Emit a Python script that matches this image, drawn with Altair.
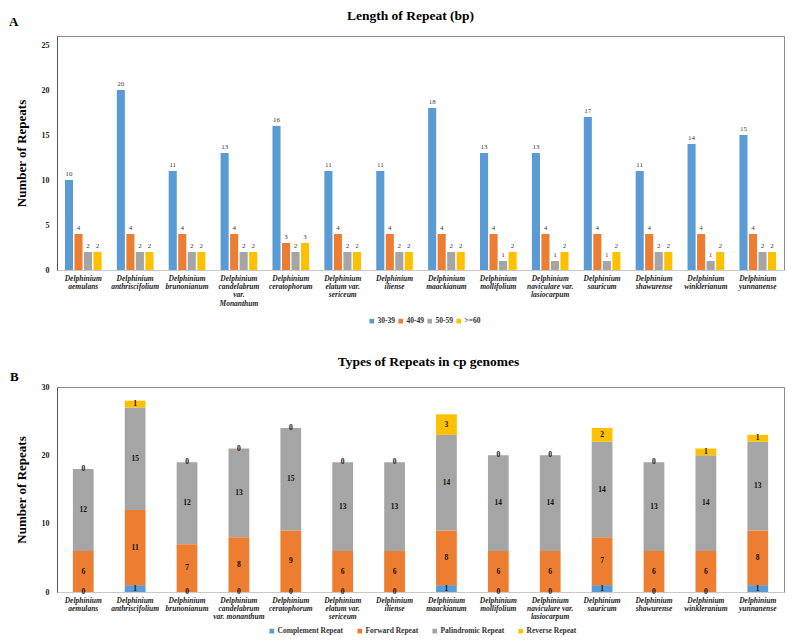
import altair as alt
import pandas as pd

FONT = "Liberation Serif"

# ---------------- data ----------------
labels_a = [
    "Delphinium|aemulans", "Delphinium|anthriscifolium", "Delphinium|brunonianum",
    "Delphinium|candelabrum|var.|Monanthum", "Delphinium|ceratophorum",
    "Delphinium|elatum var.|sericeum", "Delphinium|iliense", "Delphinium|maackianum",
    "Delphinium|mollifolium", "Delphinium|naviculare var.|lasiocarpum",
    "Delphinium|sauricum", "Delphinium|shawurense", "Delphinium|winklerianum",
    "Delphinium|yunnanense",
]
labels_b = [
    "Delphinium|aemulans", "Delphinium|anthriscifolium", "Delphinium|brunonianum",
    "Delphinium|candelabrum|var.  monanthum", "Delphinium|ceratophorum",
    "Delphinium|elatum var.|sericeum", "Delphinium|iliense", "Delphinium|maackianum",
    "Delphinium|mollifolium", "Delphinium|naviculare var.|lasiocarpum",
    "Delphinium|sauricum", "Delphinium|shawurense", "Delphinium|winkleranium",
    "Delphinium|yunnanense",
]

len_groups = ["30-39", "40-49", "50-59", ">=60"]
len_30_39 = [10, 20, 11, 13, 16, 11, 11, 18, 13, 13, 17, 11, 14, 15]
len_40_49 = [4, 4, 4, 4, 3, 4, 4, 4, 4, 4, 4, 4, 4, 4]
len_50_59 = [2, 2, 2, 2, 2, 2, 2, 2, 1, 1, 1, 2, 1, 2]
len_60 = [2, 2, 2, 2, 3, 2, 2, 2, 2, 2, 2, 2, 2, 2]
len_colors = ["#5B9BD5", "#ED7D31", "#A5A5A5", "#FFC000"]

type_names = ["Complement Repeat", "Forward Repeat", "Palindromic Repeat", "Reverse Repeat"]
complement = [0, 1, 0, 0, 0, 0, 0, 1, 0, 0, 1, 0, 0, 1]
forward = [6, 11, 7, 8, 9, 6, 6, 8, 6, 6, 7, 6, 6, 8]
palindromic = [12, 15, 12, 13, 15, 13, 13, 14, 14, 14, 14, 13, 14, 13]
reverse = [0, 1, 0, 0, 0, 0, 0, 3, 0, 0, 2, 0, 1, 1]

# ---------------- tables ----------------
rows_a = []
for g, vals in zip(len_groups, [len_30_39, len_40_49, len_50_59, len_60]):
    for s, v in zip(labels_a, vals):
        rows_a.append({"species": s, "group": g, "value": v})
df_a = pd.DataFrame(rows_a)

rows_b = []
for i, (t, vals) in enumerate(zip(type_names, [complement, forward, palindromic, reverse])):
    for s, v in zip(labels_b, vals):
        rows_b.append({"species": s, "type": t, "order": i, "value": v})
df_b = pd.DataFrame(rows_b)

W = 727

def x_axis():
    return alt.Axis(
        title=None, labelAngle=0, labelExpr="split(datum.value, '|')",
        labelFont=FONT, labelFontSize=7.5, labelFontWeight="bold", labelFontStyle="italic",
        labelColor="#222222", labelLineHeight=8.4, labelPadding=4, labelBaseline="top",
        ticks=False, domainColor="#c8c8c8", labelLimit=200,
    )

def y_axis(vals):
    return alt.Axis(
        title="Number of Repeats", titleFont=FONT, titleFontSize=13, titleFontWeight="bold",
        titleColor="#000000", titlePadding=13, values=vals, labelFont=FONT, labelFontSize=8,
        labelFontWeight="bold", labelColor="#222222", labelPadding=8, ticks=False, grid=False,
        domainColor="#555555",
    )

# ---------------- chart A ----------------
base_a = alt.Chart(df_a).encode(
    x=alt.X("species:N", sort=labels_a,
            scale=alt.Scale(paddingInner=0.294, paddingOuter=0.153), axis=x_axis()),
    xOffset=alt.XOffset("group:N", sort=len_groups, scale=alt.Scale(paddingInner=0.15)),
)
bars_a = base_a.mark_bar().encode(
    y=alt.Y("value:Q", scale=alt.Scale(domain=[0, 25]), axis=y_axis([0, 5, 10, 15, 20, 25])),
    color=alt.Color("group:N", sort=len_groups,
                    scale=alt.Scale(domain=len_groups, range=len_colors),
                    legend=alt.Legend(title=None, orient="none", legendX=311, legendY=281,
                                      direction="horizontal", columns=4, symbolType="square",
                                      symbolSize=22, symbolStrokeWidth=0, labelFont=FONT,
                                      labelFontSize=7.5, labelFontWeight="bold", labelColor="#333333",
                                      labelOffset=2, columnPadding=2)),
)
text_a = base_a.mark_text(dy=-6, font=FONT, fontSize=7, fill="#404040").encode(
    y="value:Q", text="value:Q"
)
tag_a = alt.Chart(pd.DataFrame({"t": ["A"]})).mark_text(
    font=FONT, fontSize=13, fontWeight="bold", align="left"
).encode(x=alt.value(-48), y=alt.value(-14), text="t:N")

chart_a = alt.layer(bars_a, text_a, tag_a).properties(
    width=W, height=234,
    title=alt.Title("Length of Repeat (bp)", font=FONT, fontSize=13.5, fontWeight="bold",
                    offset=-6, dx=-10),
)

# ---------------- chart B ----------------
base_b = alt.Chart(df_b).transform_stack(
    stack="value", groupby=["species"], as_=["y0", "y1"],
    sort=[alt.SortField("order", order="ascending")],
).transform_calculate(mid="(datum.y0 + datum.y1) / 2").encode(
    x=alt.X("species:N", sort=labels_b,
            scale=alt.Scale(paddingInner=0.6, paddingOuter=0.306), axis=x_axis()),
)
bars_b = base_b.mark_bar().encode(
    y=alt.Y("y1:Q", scale=alt.Scale(domain=[0, 30]), axis=y_axis([0, 5, 10, 15, 20, 25, 30])),
    y2="y0:Q",
    color=alt.Color("type:N", sort=type_names,
                    scale=alt.Scale(domain=type_names, range=len_colors),
                    legend=alt.Legend(title=None, orient="none", legendX=211, legendY=240,
                                      direction="horizontal", columns=4, symbolType="square",
                                      symbolSize=22, symbolStrokeWidth=0, labelFont=FONT,
                                      labelFontSize=7.5, labelFontWeight="bold", labelColor="#333333",
                                      labelOffset=2, columnPadding=12)),
)
text_b = base_b.mark_text(font=FONT, fontSize=7.5, fontWeight="bold", fill="#111111",
                          baseline="middle").encode(y="mid:Q", text="value:Q")
tag_b = alt.Chart(pd.DataFrame({"t": ["B"]})).mark_text(
    font=FONT, fontSize=13, fontWeight="bold", align="left"
).encode(x=alt.value(-47), y=alt.value(-10), text="t:N")

chart_b = alt.layer(bars_b, text_b, tag_b).properties(
    width=W, height=205,
    title=alt.Title("Types of Repeats in cp genomes", font=FONT, fontSize=13.5, fontWeight="bold",
                    offset=3, dx=8),
)

chart = alt.vconcat(chart_a, chart_b, spacing=28).resolve_scale(color="independent").properties(
    padding=0
).configure_view(stroke="#8c8c8c", strokeWidth=1)

chart.save("out.html", embed_options={"renderer": "svg", "actions": False})
